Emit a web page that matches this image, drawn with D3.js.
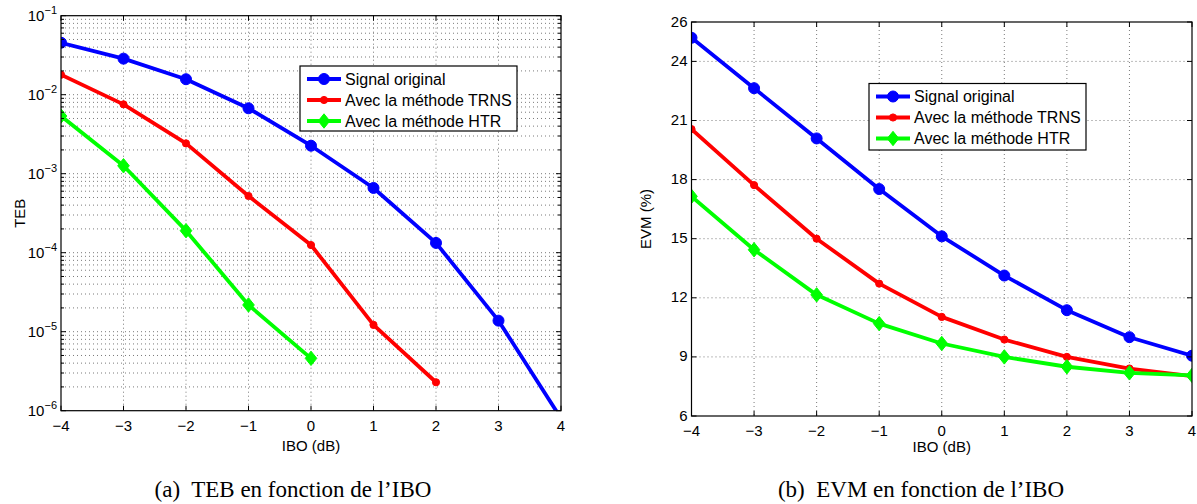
<!DOCTYPE html>
<html><head><meta charset="utf-8">
<script src="https://cdn.jsdelivr.net/npm/d3@7"></script>
<style>
html,body{margin:0;padding:0;background:#fff;}
svg{display:block;}
text{font-family:"Liberation Sans",Arial,sans-serif;fill:#000;}
.cap{font-family:"Liberation Serif","Times New Roman",serif;white-space:pre;}
</style></head>
<body>
<svg id="c" width="1197" height="504"></svg>
<script>
// ---------- data ----------
const ibo = [-4, -3, -2, -1, 0, 1, 2, 3, 4];
const xTicks = [-4, -3, -2, -1, 0, 1, 2, 3, 4];
const seriesNames = ["Signal original", "Avec la méthode TRNS", "Avec la méthode HTR"];
// (a) TEB vs IBO (log scale)
const tebOriginal = [0.0455, 0.0286, 0.0157, 0.00673, 0.00226, 6.6e-4, 1.33e-4, 1.38e-5, 8.0e-7];
const tebTRNS     = [0.0179, 0.00755, 0.00242, 5.22e-4, 1.25e-4, 1.22e-5, 2.29e-6];
const tebHTR      = [0.00537, 0.00126, 1.9e-4, 2.18e-5, 4.6e-6];
const tebTickExps = [-1, -2, -3, -4, -5, -6];
// (b) EVM vs IBO
const evmOriginal = [25.2, 22.64, 20.09, 17.52, 15.12, 13.13, 11.37, 10.0, 9.06];
const evmTRNS     = [20.56, 17.72, 15.0, 12.72, 11.03, 9.88, 9.0, 8.41, 8.02];
const evmHTR      = [17.15, 14.44, 12.15, 10.69, 9.68, 9.0, 8.5, 8.19, 8.06];
const evmTicks    = [6, 9, 12, 15, 18, 21, 24, 26];
const captions = ["(a)  TEB en fonction de l\u2019IBO", "(b)  EVM en fonction de l\u2019IBO"];
const xLabel = "IBO (dB)";
const yLabels = ["TEB", "EVM (%)"];

// ---------- styles ----------
const colors = ["#0000ff", "#ff0000", "#00ff00"];
const markers = ["circle", "dot", "diamond"];

const svg = d3.select("#c");

function markerPath(type) {
  if (type === "circle") return d3.symbol(d3.symbolCircle, Math.PI * 5.5 * 5.5)();
  if (type === "dot") return d3.symbol(d3.symbolCircle, Math.PI * 3.6 * 3.6)();
  const hw = 5.8, hh = 7.2;
  return `M0,${-hh}L${hw},0L0,${hh}L${-hw},0Z`;
}

function panel(opt) {
  const {x0, x1, y0, y1} = opt.box;
  const g = svg.append("g");
  const x = d3.scaleLinear().domain([-4, 4]).range([x0, x1]);
  const y = opt.y;

  const clipId = "clip" + opt.id;
  svg.append("clipPath").attr("id", clipId)
    .append("rect").attr("x", x0).attr("y", y0).attr("width", x1 - x0).attr("height", y1 - y0);

  // grid
  const grid = g.append("g").attr("stroke", "#7a7a7a").attr("stroke-width", 1)
    .attr("stroke-dasharray", "1,3").attr("fill", "none");
  xTicks.forEach(v => {
    if (v === -4 || v === 4) return;
    grid.append("line").attr("x1", x(v)).attr("x2", x(v)).attr("y1", y0).attr("y2", y1);
  });
  opt.gridY.forEach(v => {
    const yy = y(v);
    if (Math.abs(yy - y0) < 1 || Math.abs(yy - y1) < 1) return;
    grid.append("line").attr("x1", x0).attr("x2", x1).attr("y1", yy).attr("y2", yy);
  });

  // series
  const plot = g.append("g").attr("clip-path", `url(#${clipId})`);
  opt.series.forEach((vals, i) => {
    const pts = vals.map((v, k) => [ibo[k], v]);
    const line = d3.line().x(d => x(d[0])).y(d => y(d[1]));
    plot.append("path").attr("d", line(pts)).attr("fill", "none")
      .attr("stroke", colors[i]).attr("stroke-width", 3.8)
      .attr("stroke-linejoin", "round").attr("stroke-linecap", "butt");
    plot.selectAll(null).data(pts).enter().append("path")
      .attr("d", markerPath(markers[i]))
      .attr("transform", d => `translate(${x(d[0])},${y(d[1])})`)
      .attr("fill", colors[i]).attr("stroke", colors[i]).attr("stroke-width", 1);
  });

  // box
  g.append("rect").attr("x", x0).attr("y", y0).attr("width", x1 - x0).attr("height", y1 - y0)
    .attr("fill", "none").attr("stroke", "#000").attr("stroke-width", 1.2);

  // ticks (inward on all sides)
  const tk = g.append("g").attr("stroke", "#000").attr("stroke-width", 1);
  xTicks.forEach(v => {
    tk.append("line").attr("x1", x(v)).attr("x2", x(v)).attr("y1", y1).attr("y2", y1 - 5);
    tk.append("line").attr("x1", x(v)).attr("x2", x(v)).attr("y1", y0).attr("y2", y0 + 5);
  });
  opt.majorY.forEach(v => {
    tk.append("line").attr("x1", x0).attr("x2", x0 + 5).attr("y1", y(v)).attr("y2", y(v));
    tk.append("line").attr("x1", x1).attr("x2", x1 - 5).attr("y1", y(v)).attr("y2", y(v));
  });
  (opt.minorY || []).forEach(v => {
    tk.append("line").attr("x1", x0).attr("x2", x0 + 3).attr("y1", y(v)).attr("y2", y(v));
    tk.append("line").attr("x1", x1).attr("x2", x1 - 3).attr("y1", y(v)).attr("y2", y(v));
  });

  // x tick labels
  xTicks.forEach(v => {
    g.append("text").attr("x", x(v)).attr("y", y1 + 20).attr("text-anchor", "middle")
      .attr("font-size", 15).text(v < 0 ? "\u2212" + Math.abs(v) : String(v));
  });
  // y tick labels
  opt.yLabel(g, x0, y);

  // axis labels
  g.append("text").attr("x", (x0 + x1) / 2).attr("y", opt.xLabelY).attr("text-anchor", "middle")
    .attr("font-size", 15).text(xLabel);
  g.append("text").attr("transform", `translate(${opt.yLabelX},${(y0 + y1) / 2}) rotate(-90)`)
    .attr("text-anchor", "middle").attr("font-size", 15).text(opt.yTitle);

  // legend
  const L = opt.legend;
  const lg = g.append("g");
  lg.append("rect").attr("x", L.x).attr("y", L.y).attr("width", L.w).attr("height", L.h)
    .attr("fill", "#fff").attr("stroke", "#000").attr("stroke-width", 1.2);
  seriesNames.forEach((name, i) => {
    const yy = L.y + 13 + i * 21;
    lg.append("line").attr("x1", L.x + 7).attr("x2", L.x + 41).attr("y1", yy).attr("y2", yy)
      .attr("stroke", colors[i]).attr("stroke-width", 3.8);
    lg.append("path").attr("d", markerPath(markers[i]))
      .attr("transform", `translate(${L.x + 24},${yy})`).attr("fill", colors[i]).attr("stroke", colors[i]);
    lg.append("text").attr("x", L.x + 45).attr("y", yy + 5.5).attr("font-size", 16).text(name);
  });

  // caption
  svg.append("text").attr("class", "cap").attr("x", opt.capX).attr("y", 497)
    .attr("text-anchor", "middle").attr("font-size", 23).text(opt.caption);
}

// ---------- panel (a) ----------
const boxA = {x0: 61, x1: 561, y0: 15.7, y1: 410.7};
const yA = d3.scaleLog().domain([1e-6, 1e-1]).range([boxA.y1, boxA.y0]);
const majorA = tebTickExps.map(e => Math.pow(10, e));
const minorA = [];
for (let e = -6; e <= -2; e++) for (let k = 2; k <= 9; k++) minorA.push(k * Math.pow(10, e));

panel({
  id: "a", box: boxA, y: yA,
  series: [tebOriginal, tebTRNS, tebHTR],
  gridY: majorA.concat(minorA), majorY: majorA, minorY: minorA,
  yLabel: (g, x0, y) => {
    tebTickExps.forEach(e => {
      const t = g.append("text").attr("x", x0 - 4).attr("y", y(Math.pow(10, e)) + 5)
        .attr("text-anchor", "end").attr("font-size", 15);
      t.append("tspan").text("10");
      t.append("tspan").attr("dy", -7).attr("font-size", 11).text("\u2212" + Math.abs(e));
    });
  },
  xLabelY: 451, yLabelX: 25, yTitle: yLabels[0],
  legend: {x: 300, y: 66, w: 217, h: 65},
  capX: 293, caption: captions[0]
});

// ---------- panel (b) ----------
const boxB = {x0: 691.5, x1: 1192, y0: 22, y1: 416};
const yB = d3.scaleLinear().domain([6, 26]).range([boxB.y1, boxB.y0]);
panel({
  id: "b", box: boxB, y: yB,
  series: [evmOriginal, evmTRNS, evmHTR],
  gridY: evmTicks, majorY: evmTicks,
  yLabel: (g, x0, y) => {
    evmTicks.forEach(v => {
      g.append("text").attr("x", x0 - 4).attr("y", y(v) + 4.5)
        .attr("text-anchor", "end").attr("font-size", 15).text(String(v));
    });
  },
  xLabelY: 452, yLabelX: 651, yTitle: yLabels[1],
  legend: {x: 869, y: 83.5, w: 217, h: 66.5},
  capX: 921, caption: captions[1]
});
</script>
</body></html>
